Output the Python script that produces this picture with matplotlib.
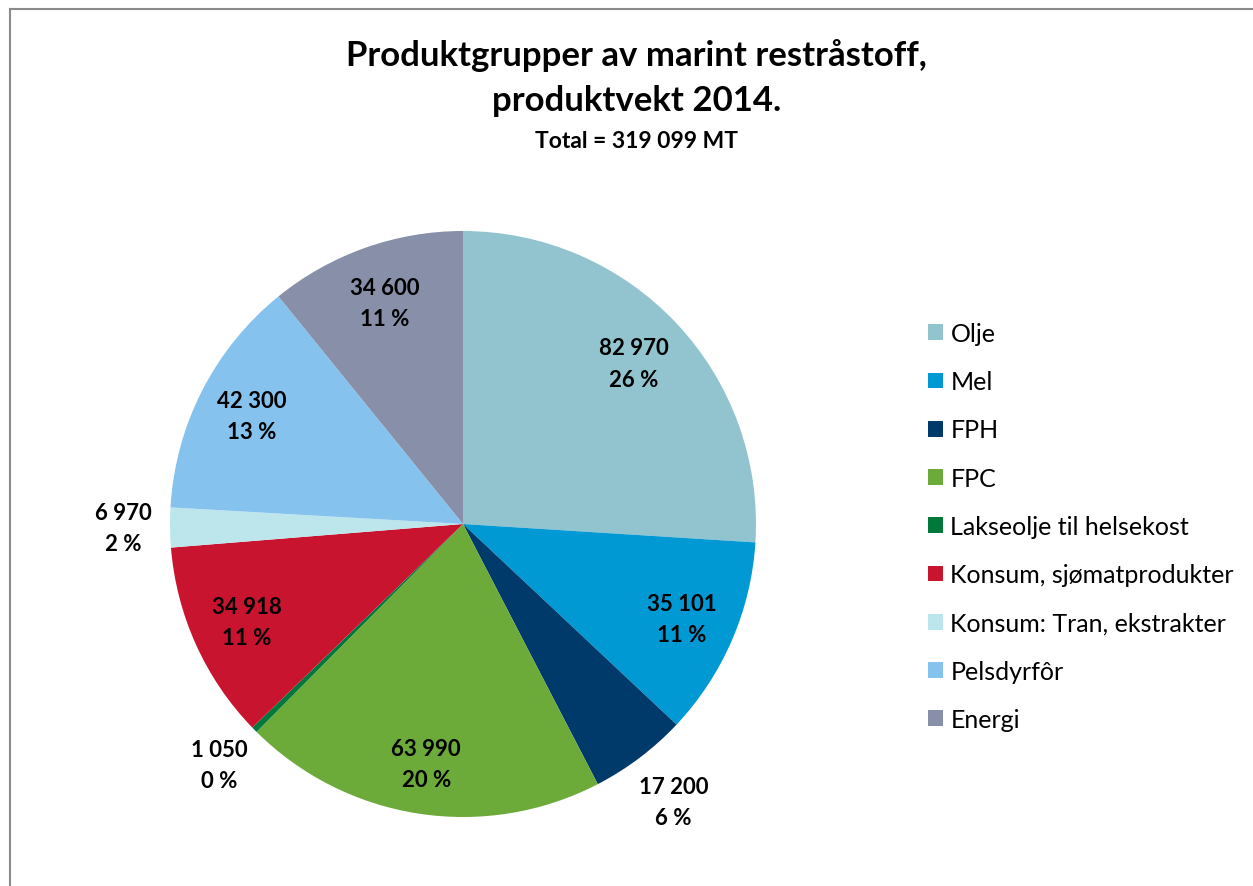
import matplotlib
matplotlib.use("Agg")
import matplotlib.pyplot as plt
from matplotlib.patches import Patch
from matplotlib.lines import Line2D
import numpy as np

categories = ["Olje", "Mel", "FPH", "FPC", "Lakseolje til helsekost",
              "Konsum, sjømatprodukter", "Konsum: Tran, ekstrakter",
              "Pelsdyrfôr", "Energi"]
values = [82970, 35101, 17200, 63990, 1050, 34918, 6970, 42300, 34600]
pct_labels = [26, 11, 6, 20, 0, 11, 2, 13, 11]
colors = ["#92C4CF", "#0099D4", "#003A6B", "#6CAB3A", "#00783A",
          "#C8142F", "#BDE6EC", "#85C3EE", "#878FA9"]
label_dist = [0.80, 0.815, 1.19, 0.83, 1.17, 0.81, 1.16, 0.81, 0.80]

plt.rcParams['font.family'] = ['Lato', 'DejaVu Sans']

W, H = 1253, 887
fig = plt.figure(figsize=(W/100, H/100), dpi=100)

# outer border
fig.add_artist(Line2D([10/W, 10/W], [0, 1-10/H], color="#8a8a8a", lw=1.5, transform=fig.transFigure))
fig.add_artist(Line2D([10/W, 1], [1-10/H, 1-10/H], color="#8a8a8a", lw=1.5, transform=fig.transFigure))

cx, cy, r = 463, 525, 293
ax = fig.add_axes([(cx-r)/W, 1-(cy+r)/H, 2*r/W, 2*r/H])
wedges, _ = ax.pie(values, colors=colors, startangle=90, counterclock=False,
                   radius=1.0, wedgeprops=dict(linewidth=0))
ax.set_xlim(-1, 1); ax.set_ylim(-1, 1)
ax.set_aspect('equal')

for w, v, p, d in zip(wedges, values, pct_labels, label_dist):
    ang = np.deg2rad((w.theta1 + w.theta2) / 2)
    x, y = d*np.cos(ang), d*np.sin(ang)
    txt = f"{v:,}".replace(",", " ") + f"\n{p} %"
    ax.text(x, y, txt, ha="center", va="center", fontsize=16, fontweight="bold",
            linespacing=1.6, clip_on=False)

fig.text(0.508, 1-56/H, "Produktgrupper av marint restråstoff,", ha="center", va="center",
         fontsize=25, fontweight="bold")
fig.text(0.508, 1-101/H, "produktvekt 2014.", ha="center", va="center",
         fontsize=25, fontweight="bold")
fig.text(0.508, 1-141/H, "Total = 319 099 MT", ha="center", va="center",
         fontsize=16.5, fontweight="bold")

handles = [Patch(facecolor=c, edgecolor="none") for c in colors]
leg = fig.legend(handles, categories, loc="upper left", bbox_to_anchor=(928/W, 1-323/H),
                 frameon=False, fontsize=18, handlelength=0.6, handleheight=0.6,
                 handletextpad=0.3, labelspacing=1.01, borderaxespad=0, borderpad=0)

fig.savefig("out.png", dpi=100)
